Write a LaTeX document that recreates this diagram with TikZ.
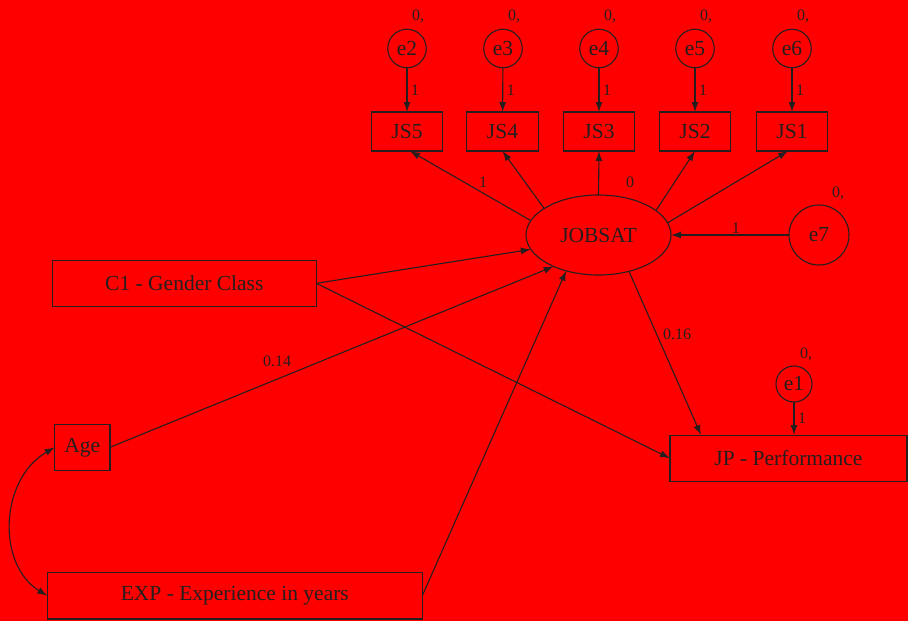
\documentclass[tikz,border=0pt]{standalone}
\usepackage{fontspec}
\setmainfont{Liberation Serif}
\usetikzlibrary{arrows.meta,shapes.geometric}
\definecolor{bgred}{RGB}{255,0,0}
\definecolor{ink}{RGB}{38,30,30}
\begin{document}
\begin{tikzpicture}[x=1pt,y=-1pt,
  line width=1.1pt, draw=ink, text=ink,
  every node/.style={inner sep=0pt, outer sep=0pt, text=ink},
  obs/.style={draw=ink, rectangle, font=\fontsize{21.5}{23}\selectfont},
  err/.style={draw=ink, circle, font=\fontsize{21.5}{23}\selectfont},
  lat/.style={draw=ink, ellipse, font=\fontsize{21.5}{23}\selectfont},
  lbl/.style={font=\fontsize{16}{18}\selectfont},
  arr/.style={draw=ink, -{Latex[length=10pt,width=7pt]}},
  darr/.style={draw=ink, {Latex[length=10pt,width=7pt]}-{Latex[length=10pt,width=7pt]}}]
\fill[bgred] (0,0) rectangle (908,621);
\useasboundingbox (0,0) rectangle (908,621);

% error circles top
\node[err, minimum size=38.5pt] (e2) at (407,48.5) {e2};
\node[err, minimum size=38.5pt] (e3) at (503,48.5) {e3};
\node[err, minimum size=38.5pt] (e4) at (599,48.5) {e4};
\node[err, minimum size=38.5pt] (e5) at (695,48.5) {e5};
\node[err, minimum size=38.5pt] (e6) at (792,48.5) {e6};

\node[lbl] (v2) at (418,16) {0,};
\node[lbl] (v3) at (514,16) {0,};
\node[lbl] (v4) at (610,16) {0,};
\node[lbl] (v5) at (706,16) {0,};
\node[lbl] (v6) at (803,16) {0,};

% JS boxes
\node[obs, minimum width=70.5pt, minimum height=39pt] (js5) at (407,131.5) {JS5};
\node[obs, minimum width=71.5pt, minimum height=39pt] (js4) at (502.5,131.5) {JS4};
\node[obs, minimum width=71pt, minimum height=39pt] (js3) at (599,131.5) {JS3};
\node[obs, minimum width=71.5pt, minimum height=39pt] (js2) at (695,131.5) {JS2};
\node[obs, minimum width=71.5pt, minimum height=39pt] (js1) at (792,131.5) {JS1};

\draw[arr] (e2) -- node[lbl, right=4pt] {1} (js5);
\draw[arr] (e3) -- node[lbl, right=4pt] {1} (js4);
\draw[arr] (e4) -- node[lbl, right=4pt] {1} (js3);
\draw[arr] (e5) -- node[lbl, right=4pt] {1} (js2);
\draw[arr] (e6) -- node[lbl, right=4pt] {1} (js1);

% latent
\node[lat, minimum width=145pt, minimum height=80pt] (job) at (598.5,235) {JOBSAT};
\node[err, minimum size=60pt] (e7) at (819,235) {e7};
\node[lbl] (v7) at (838,193) {0,};

\draw[arr] (job.168.6) -- ([xshift=3pt]js5.south);
\draw[arr] (job.154.6) -- (js4.south);
\draw[arr] (job.90) -- (js3.south);
\draw[arr] (job.23.5) -- (js2.south);
\draw[arr] (job.10.4) -- ([xshift=-4pt]js1.south);
\node[lbl] (l1) at (483,182) {1};
\node[lbl] (l0) at (630,182) {0};

\draw[arr] (e7) -- node[lbl, above=2pt, pos=0.45] {1} (job);

% exogenous
\node[obs, minimum width=264pt, minimum height=46.5pt] (c1) at (184.3,283.3) {C1 - Gender Class};
\node[obs, minimum width=55.3pt, minimum height=46.5pt] (age) at (82.3,447.3) {Age};
\node[obs, minimum width=375pt, minimum height=46.5pt] (exp) at (234.8,595.7) {EXP - Experience in years};
\node[obs, minimum width=237pt, minimum height=46.5pt] (jp) at (788.5,458.3) {JP - Performance};

\node[err, minimum size=36pt] (e1) at (794,384) {e1};
\node[lbl] (v1) at (806,354) {0,};
\draw[arr] (e1) -- node[lbl, right=4pt] {1} (e1 |- jp.north);

\draw[arr] (c1.east) -- (job.192.4);
\draw[arr] (c1.east) -- (jp.west);
\draw[arr] (age.east) -- (job.215.4);
\node[lbl] (l014) at (277,361) {0.14};
\draw[arr] (exp.east) -- (job.228.6);
\coordinate (jpin) at (701,435);
\draw[arr] (job.-50.5) -- (jpin);
\node[lbl] (l016) at (677,334) {0.16};

\draw[darr] (age.west) .. controls (-1,480) and (-3,565) .. (exp.west);
\end{tikzpicture}
\end{document}
